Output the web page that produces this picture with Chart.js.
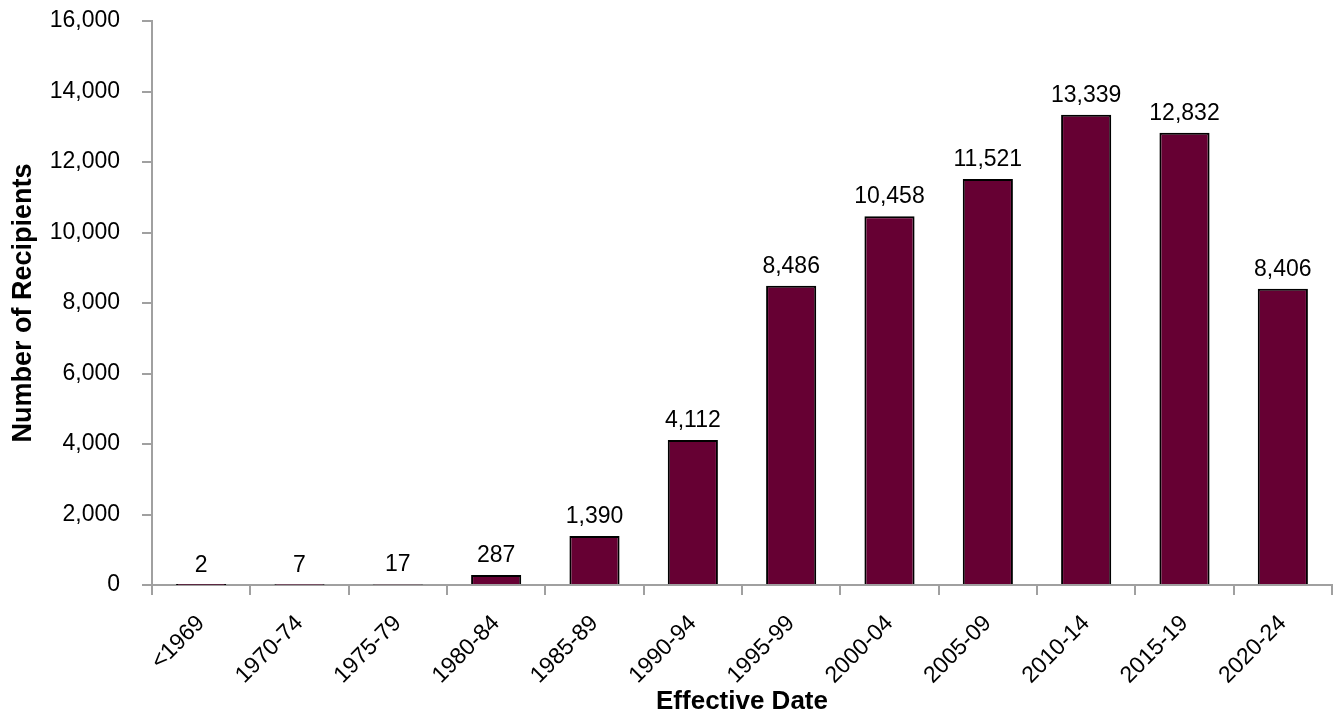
<!DOCTYPE html>
<html>
<head>
<meta charset="utf-8">
<script src="https://cdn.jsdelivr.net/npm/chart.js@4.4.1/dist/chart.umd.min.js"></script>
<style>
  html, body { margin: 0; padding: 0; background: #fff; }
  #wrap { width: 1338px; height: 715px; }
</style>
</head>
<body>
<div id="wrap"><canvas id="c" width="1338" height="715"></canvas></div>
<script>
const categories = ['<1969', '1970-74', '1975-79', '1980-84', '1985-89', '1990-94',
  '1995-99', '2000-04', '2005-09', '2010-14', '2015-19', '2020-24'];
const recipients = [2, 7, 17, 287, 1390, 4112, 8486, 10458, 11521, 13339, 12832, 8406];
const yTicks = [0, 2000, 4000, 6000, 8000, 10000, 12000, 14000, 16000];

const FONT = '"Liberation Sans", Arial, sans-serif';
const fmt = v => v.toLocaleString('en-US');

// Value labels above each bar
const valueLabels = {
  id: 'valueLabels',
  afterDatasetsDraw(chart) {
    const ctx = chart.ctx;
    const meta = chart.getDatasetMeta(0);
    ctx.save();
    ctx.font = '23px ' + FONT;
    ctx.fillStyle = '#000';
    ctx.textAlign = 'center';
    ctx.textBaseline = 'alphabetic';
    meta.data.forEach((bar, i) => {
      ctx.fillText(fmt(recipients[i]), bar.x, bar.y - 13);
    });
    ctx.restore();
  }
};

new Chart(document.getElementById('c'), {
  type: 'bar',
  data: {
    labels: categories,
    datasets: [{
      data: recipients,
      backgroundColor: '#660033',
      borderColor: '#000',
      borderWidth: 2,
      categoryPercentage: 1.0,
      barPercentage: 0.51
    }]
  },
  options: {
    responsive: false,
    animation: false,
    layout: { padding: { top: 21, right: 6, left: 0, bottom: 0 } },
    plugins: { legend: { display: false }, tooltip: { enabled: false } },
    scales: {
      x: {
        offset: true,
        afterFit(axis) { axis.paddingLeft = 0; axis.paddingRight = 0; axis.height = 130; },
        grid: { display: true, drawOnChartArea: false, drawTicks: true, tickLength: 10,
                color: '#a0a0a0', lineWidth: 2, offset: true },
        border: { color: '#a0a0a0', width: 2 },
        ticks: { color: '#000', font: { family: FONT, size: 23 }, minRotation: 45, maxRotation: 45, padding: 15 },
        title: { display: true, text: 'Effective Date', color: '#000',
                 font: { family: FONT, size: 26, weight: 'bold', lineHeight: 1 },
                 padding: { top: 7, bottom: 0 } }
      },
      y: {
        min: 0, max: 16000,
        afterBuildTicks(axis) { axis.ticks = yTicks.map(v => ({ value: v })); },
        afterFit(axis) { axis.paddingTop = 0; axis.paddingBottom = 0; axis.width = 152; },
        grid: { display: true, drawOnChartArea: false, drawTicks: true, tickLength: 10,
                color: '#a0a0a0', lineWidth: 2 },
        border: { color: '#a0a0a0', width: 2 },
        ticks: { color: '#000', font: { family: FONT, size: 23 }, padding: 22,
                 callback: v => fmt(v) },
        title: { display: true, text: 'Number of Recipients', color: '#000',
                 font: { family: FONT, size: 27, weight: 'bold', lineHeight: 1.2 },
                 padding: { top: 7, bottom: 13 } }
      }
    }
  },
  plugins: [valueLabels]
});
</script>
</body>
</html>
